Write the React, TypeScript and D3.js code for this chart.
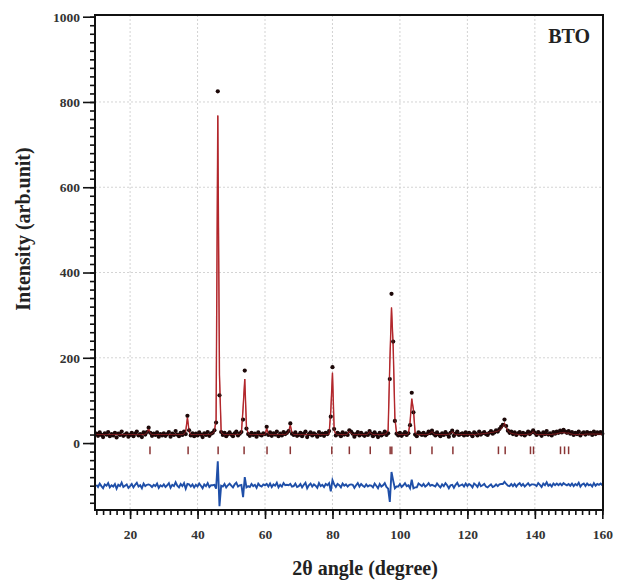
import * as d3 from "d3";
import React, { useEffect, useRef } from "react";

// 2theta grid: 10.0 .. 160.0 step 0.5
const angleStart = 10;
const angleStep = 0.5;

const observed = [
  22, 17, 25, 19, 14, 23, 20, 26, 16, 21, 18, 24, 13, 22, 19, 27, 17, 20, 23, 15,
  19, 24, 16, 22, 27, 18, 21, 14, 25, 20, 26, 36, 24, 17, 22, 19, 25, 15, 21, 18,
  23, 17, 21, 26, 15, 22, 19, 28, 20, 16, 24, 19, 27, 21, 64, 30, 18, 23, 16, 22,
  18, 25, 20, 14, 23, 19, 26, 17, 22, 24, 30, 48, 825, 112, 26, 19, 24, 16, 21, 25,
  20, 16, 23, 27, 18, 22, 26, 55, 170, 34, 21, 17, 24, 19, 22, 15, 25, 20, 18, 23,
  21, 38, 19, 25, 17, 23, 20, 27, 16, 22, 18, 26, 21, 24, 28, 46, 22, 19, 25, 17,
  19, 24, 16, 22, 27, 14, 21, 25, 18, 23, 20, 15, 26, 19, 22, 17, 24, 21, 28, 62,
  178, 33, 18, 24, 21, 16, 25, 20, 23, 19, 30, 27, 22, 15, 21, 26, 18, 24, 20, 17,
  23, 19, 28, 22, 16, 25, 20, 14, 24, 18, 21, 27, 19, 23, 150, 350, 238, 52, 22, 18,
  24, 17, 21, 26, 19, 23, 42, 118, 72, 20, 16, 25, 22, 19, 24, 18, 21, 27, 23, 29,
  22, 18, 25, 20, 16, 23, 19, 26, 21, 15, 24, 29, 17, 22, 27, 19, 21, 23, 18, 25,
  19, 24, 21, 16, 25, 22, 18, 27, 20, 23, 26, 21, 19, 24, 28, 22, 25, 30, 27, 33,
  38, 43, 55, 40, 29, 24, 27, 21, 25, 19, 23, 26, 20, 24, 18, 22, 27, 21, 25, 30,
  24, 19, 26, 22, 17, 25, 21, 28, 20, 23, 18, 26, 22, 27, 24, 29, 25, 31, 27, 24,
  28, 22, 26, 19, 24, 21, 27, 18, 23, 25, 20, 26, 22, 24, 19, 27, 21, 25, 23, 26,
  22,
];

const calculated = [
  20, 20, 20, 20, 20, 20, 20, 20, 20, 20, 20, 20, 20, 20, 20, 20, 20, 20, 20, 20,
  20, 20, 20, 20, 20, 20, 20, 20, 20, 21, 24, 33, 23, 20, 20, 20, 20, 20, 20, 20,
  20, 20, 20, 20, 20, 20, 20, 20, 20, 20, 20, 20, 21, 28, 60, 27, 20, 20, 20, 20,
  20, 20, 20, 20, 20, 20, 20, 20, 21, 23, 28, 55, 768, 160, 26, 21, 20, 20, 20, 20,
  20, 20, 20, 20, 20, 21, 24, 82, 150, 38, 22, 20, 20, 20, 20, 20, 20, 20, 20, 20,
  20, 34, 21, 20, 20, 20, 20, 20, 20, 20, 20, 20, 20, 22, 27, 42, 24, 20, 20, 20,
  20, 20, 20, 20, 20, 20, 20, 20, 20, 20, 20, 20, 20, 20, 20, 20, 20, 20, 22, 75,
  165, 30, 21, 20, 20, 20, 20, 20, 20, 21, 28, 24, 20, 20, 20, 20, 20, 20, 20, 20,
  20, 21, 27, 22, 20, 20, 20, 20, 20, 20, 20, 21, 22, 30, 188, 318, 226, 58, 24, 20,
  20, 20, 20, 20, 20, 22, 48, 104, 78, 24, 20, 20, 20, 20, 20, 20, 20, 21, 23, 27,
  22, 20, 20, 20, 20, 20, 20, 20, 20, 21, 23, 27, 22, 20, 20, 20, 20, 20, 20, 20,
  20, 20, 20, 20, 20, 20, 21, 21, 21, 22, 22, 23, 23, 24, 25, 25, 26, 27, 28, 30,
  34, 39, 46, 36, 29, 25, 23, 22, 21, 21, 20, 20, 20, 20, 20, 20, 21, 21, 22, 27,
  22, 20, 20, 20, 20, 20, 20, 20, 20, 20, 20, 21, 21, 22, 23, 24, 24, 25, 24, 23,
  24, 22, 21, 20, 20, 20, 20, 20, 20, 20, 21, 21, 21, 21, 21, 21, 21, 21, 21, 21,
  21,
];

const braggPositions = [
  25.9, 37.2, 46.1, 53.8, 60.6, 67.5, 79.8, 85.0, 91.2, 97.1, 97.6, 103.1, 109.5,
  115.7, 129.2, 131.2, 138.7, 139.6, 147.6, 148.8, 150.0,
];

const diffOffset = -100;
const braggTop = -8;
const braggBottom = -26;

const xTicks = [20, 40, 60, 80, 100, 120, 140, 160];
const yTicks = [0, 200, 400, 600, 800, 1000];
const xGrid = [20, 40, 60, 80, 100, 120, 140];
const yGrid = [200, 400, 600, 800];

export default function App() {
  const svgRef = useRef(null);
  const width = 621;
  const height = 580;
  const left = 95,
    right = 603,
    top = 15,
    bottom = 510;

  useEffect(() => {
    document.body.style.margin = "0";
    const svgEl = d3.select(svgRef.current);
    svgEl.selectAll("*").remove();

    const x = d3.scaleLinear().domain([9.6, 160.2]).range([left, right]);
    const y = d3.scaleLinear().domain([-157, 1004]).range([bottom, top]);

    const pts = observed.map((o, i) => ({
      a: angleStart + i * angleStep,
      obs: o,
      calc: calculated[i],
    }));

    const font = "'Liberation Serif', 'DejaVu Serif', serif";

    // grid
    svgEl
      .append("g")
      .selectAll("line")
      .data(xGrid)
      .enter()
      .append("line")
      .attr("x1", (d) => x(d))
      .attr("x2", (d) => x(d))
      .attr("y1", top)
      .attr("y2", bottom)
      .attr("stroke", "#c8c8c8")
      .attr("stroke-width", 0.8)
      .attr("stroke-dasharray", "2,2");
    svgEl
      .append("g")
      .selectAll("line")
      .data(yGrid)
      .enter()
      .append("line")
      .attr("x1", left)
      .attr("x2", right)
      .attr("y1", (d) => y(d))
      .attr("y2", (d) => y(d))
      .attr("stroke", "#c8c8c8")
      .attr("stroke-width", 0.8)
      .attr("stroke-dasharray", "2,2");

    const line = d3
      .line()
      .x((d) => x(d.a))
      .y((d) => y(d.calc));

    // calculated line
    svgEl
      .append("path")
      .datum(pts)
      .attr("d", line)
      .attr("fill", "none")
      .attr("stroke", "#b3282d")
      .attr("stroke-width", 1.4);

    // observed dots
    svgEl
      .append("g")
      .selectAll("circle")
      .data(pts)
      .enter()
      .append("circle")
      .attr("cx", (d) => x(d.a))
      .attr("cy", (d) => y(d.obs))
      .attr("r", 2.1)
      .attr("fill", "#1c0808");

    // red line again, thin, over the peaks
    svgEl
      .append("path")
      .datum(pts)
      .attr("d", line)
      .attr("fill", "none")
      .attr("stroke", "#b3282d")
      .attr("stroke-opacity", 0.7)
      .attr("stroke-width", 0.9);

    // bragg positions
    svgEl
      .append("g")
      .selectAll("line")
      .data(braggPositions)
      .enter()
      .append("line")
      .attr("x1", (d) => x(d))
      .attr("x2", (d) => x(d))
      .attr("y1", y(braggTop))
      .attr("y2", y(braggBottom))
      .attr("stroke", "#8a3535")
      .attr("stroke-width", 1.5);

    // difference curve
    const diffLine = d3
      .line()
      .x((d) => x(d.a))
      .y((d) => y(d.obs - d.calc + diffOffset));
    svgEl
      .append("path")
      .datum(pts)
      .attr("d", diffLine)
      .attr("fill", "none")
      .attr("stroke", "#1f4fa8")
      .attr("stroke-width", 1.9);

    // axes
    svgEl
      .append("g")
      .attr("transform", `translate(${left},0)`)
      .call(d3.axisLeft(y).tickValues(yTicks).tickSize(12).tickPadding(3).tickFormat(d3.format("d")));
    svgEl
      .append("g")
      .attr("transform", `translate(${left},0)`)
      .call(d3.axisLeft(y).tickValues(d3.range(-140, 1001, 20)).tickSize(5).tickFormat(() => ""));
    svgEl
      .append("g")
      .attr("transform", `translate(0,${bottom})`)
      .call(d3.axisBottom(x).tickValues(xTicks).tickSize(9).tickPadding(10).tickFormat(d3.format("d")));
    svgEl
      .append("g")
      .attr("transform", `translate(0,${bottom})`)
      .call(d3.axisBottom(x).tickValues(d3.range(10, 161, 2)).tickSize(5).tickFormat(() => ""));

    svgEl.selectAll(".domain").remove();
    svgEl.selectAll(".tick line").attr("stroke", "#111").attr("stroke-width", 1.6);
    svgEl
      .selectAll(".tick text")
      .attr("font-family", font)
      .attr("font-weight", "bold")
      .attr("font-size", 13.5)
      .attr("fill", "#333");

    // frame
    svgEl
      .append("rect")
      .attr("x", left)
      .attr("y", top)
      .attr("width", right - left)
      .attr("height", bottom - top)
      .attr("fill", "none")
      .attr("stroke", "#111")
      .attr("stroke-width", 2);

    // labels
    svgEl
      .append("text")
      .attr("transform", `translate(30,${229}) rotate(-90)`)
      .attr("text-anchor", "middle")
      .attr("font-family", font)
      .attr("font-weight", "bold")
      .attr("font-size", 20)
      .attr("fill", "#222")
      .text("Intensity (arb.unit)");
    svgEl
      .append("text")
      .attr("x", 365)
      .attr("y", 575)
      .attr("text-anchor", "middle")
      .attr("font-family", font)
      .attr("font-weight", "bold")
      .attr("font-size", 20)
      .attr("fill", "#222")
      .text("2θ angle (degree)");
    svgEl
      .append("text")
      .attr("x", 590)
      .attr("y", 43)
      .attr("text-anchor", "end")
      .attr("font-family", font)
      .attr("font-weight", "bold")
      .attr("font-size", 20)
      .attr("fill", "#222")
      .text("BTO");
  });

  return <svg width={width} height={height} ref={svgRef} style={{ display: "block" }}></svg>;
}
